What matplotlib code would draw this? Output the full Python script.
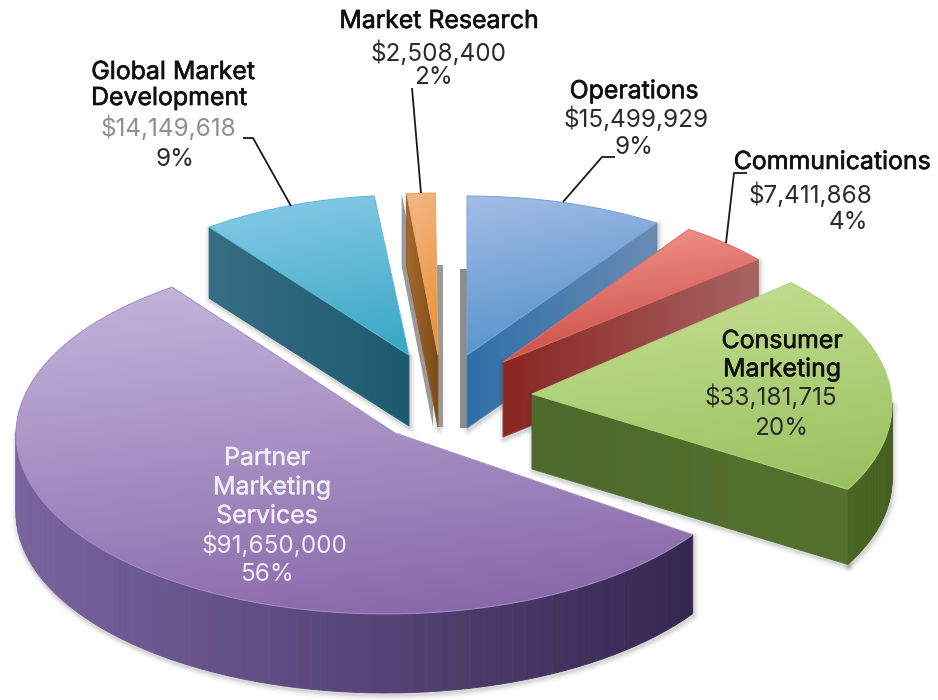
"""Exploded 3D budget pie, drawn by hand from patches so each slice can have its own ellipse."""
import numpy as np
import matplotlib
matplotlib.use('Agg')
import matplotlib.pyplot as plt
from matplotlib.colors import to_rgb
from matplotlib.patches import PathPatch, Polygon, Rectangle
from matplotlib.path import Path
import matplotlib.patheffects as pe

departments = ['Operations', 'Communications', 'Consumer Marketing',
               'Partner Marketing Services', 'Global Market Development', 'Market Research']
budgets = [15499929, 7411868, 33181715, 91650000, 14149618, 2508400]
percents = ['9%', '4%', '20%', '56%', '9%', '2%']

# slice layout, same order as above (pixels of the 938x700 picture)
tip_x = [467, 503, 532, 395, 409, 438]
tip_y = [355, 362, 394, 433, 355, 355]
ell_x = [467, 503, 532, 386, 409, 438]
ell_y = [355, 362, 405, 434, 355, 355]
rad_x = [340, 332, 360, 370, 332, 300]
rad_y = [159, 160, 176, 180, 160, 162]
depth = [73, 75, 75, 79, 71, 72]
start = [90, 56, 44, -34, 127, 96]   # where each slice starts, clockwise sweep comes from its budget

top_cols = [('#a3bde6', '#4a8cc6'), ('#f49a92', '#c4423a'), ('#c6e094', '#98c05e'),
            ('#c4b6dc', '#8463a6'), ('#8accea', '#36a6c2'), ('#f4b888', '#e88f32')]
cut_cols = [('#2f6fa8', '#6a8cb4'), ('#8a2622', '#a86464'), ('#4d6a2c', '#54722e'),
            ('#6a5590', '#3a2c58'), ('#376e84', '#1c5a70'), ('#a86a2c', '#7a4a1c')]
wall_cols = [('#6a8cb4', '#6a8cb4'), ('#a86464', '#a86464'), ('#4f6c2a', '#45601f'),
             ('#7a64a0', '#352850'), ('#376e84', '#376e84'), ('#aa6e30', '#aa6e30')]
draw_order = [0, 5, 4, 1, 2, 3]

FONT = 'Inter'
BOLD_SIZE = 17.9
VALUE_SIZE = 17.5


def grad_fill(ax, verts, c0, c1, direction, zorder):
    """Fill a polygon with a linear gradient: an image clipped to the polygon, stroked to hide the jaggies."""
    verts = np.asarray(verts, dtype=float)
    x0, y0 = verts.min(axis=0)
    x1, y1 = verts.max(axis=0)
    gx, gy = np.meshgrid(np.linspace(0, 1, 80), np.linspace(0, 1, 80))
    t = gx * direction[0] + gy * direction[1]
    t = (t - t.min()) / (t.max() - t.min())
    a, b = np.array(to_rgb(c0)), np.array(to_rgb(c1))
    img = a + (b - a) * t[..., None]
    im = ax.imshow(img, extent=(x0, x1, y1, y0), origin='upper', aspect='auto', zorder=zorder,
                   interpolation='bilinear')
    clip = PathPatch(Path(np.vstack([verts, verts[0]]), closed=True), transform=ax.transData)
    im.set_clip_path(clip)
    mid = (a + b) / 2
    ax.add_patch(Polygon(verts, closed=True, fc='none', ec=mid, lw=0.7, zorder=zorder))


def soft_shadow(ax, verts, zorder):
    for lw, alpha in ((8, 0.03), (5, 0.05), (2.5, 0.08)):
        ax.add_patch(Polygon(np.asarray(verts) + [1, 2], closed=True, fc='none', ec='k', lw=lw, alpha=alpha,
                             joinstyle='round', zorder=zorder))


def faces_viewer(tip, end, middle):
    """A cut face shows only if its outward normal points down the screen."""
    e = end - tip
    n = np.array([e[1], -e[0]])
    if np.dot(n, middle - tip) > 0:
        n = -n
    return n[1] > 1e-6


fig = plt.figure(figsize=(9.38, 7.0), dpi=100)
ax = fig.add_axes([0, 0, 1, 1])

total = sum(budgets)
z = 1
for i in draw_order:
    sweep = 360.0 * budgets[i] / total
    deg = np.linspace(start[i], start[i] - sweep, 90)
    ang = np.radians(deg)
    rim = np.column_stack([ell_x[i] + rad_x[i] * np.cos(ang), ell_y[i] - rad_y[i] * np.sin(ang)])
    tip = np.array([tip_x[i], tip_y[i]], dtype=float)
    d = np.array([0, depth[i]], dtype=float)
    top = np.vstack([tip, rim])
    middle = rim[len(rim) // 2]

    cuts = [[tip, end, end + d, tip + d] for end in (rim[0], rim[-1]) if faces_viewer(tip, end, middle)]
    front = np.sin(ang) < 0.02

    for poly in cuts:
        soft_shadow(ax, poly, z)
    if front.any():
        arc = rim[front]
        soft_shadow(ax, np.vstack([arc, arc[::-1] + d]), z)

    # thin slices in the middle throw a grey block on the white behind them
    if i in (0, 5):
        y_top = ell_y[i] - rad_y[i] + depth[i]
        h = tip_y[i] + depth[i] - y_top
        if i == 0:
            ax.add_patch(Rectangle((tip_x[i] - 7, y_top), 7, h, fc='#8c8c8c', ec='none', zorder=z))
        else:
            ax.add_patch(Rectangle((tip_x[i] - 1, y_top), 6, h, fc='#9a9a9a', ec='none', zorder=z))
            ax.add_patch(Polygon(np.asarray(cuts[0]) + [-5, 0], closed=True, fc='#9a9a9a', ec='none', zorder=z))
    z += 1

    for poly in cuts:
        grad_fill(ax, poly, *cut_cols[i], (1, 0), z)
    z += 1

    # outer wall as thin strips so the colour can follow the arc
    a, b = np.array(to_rgb(wall_cols[i][0])), np.array(to_rgb(wall_cols[i][1]))
    xs = (rim[:, 0] - rim[:, 0].min()) / max(np.ptp(rim[:, 0]), 1)
    for k in range(len(rim) - 1):
        if not front[k]:
            continue
        col = a + (b - a) * xs[k]
        ax.add_patch(Polygon([rim[k], rim[k + 1], rim[k + 1] + d, rim[k] + d], closed=True,
                             fc=col, ec=col, lw=0.6, zorder=z))
    z += 1

    # top face
    grad_fill(ax, top, *top_cols[i], (0.25, 1), z)
    z += 1

# leader lines
leaders = [([243, 253, 291], [138, 138, 206]), ([412, 421], [88, 193]),
           ([615, 602, 563], [157, 157, 202]), ([747, 734, 726], [173, 173, 243])]
for lx, ly in leaders:
    ax.plot(lx, ly, color='#1a1a1a', lw=1.3, zorder=z, solid_capstyle='butt')

heavy = [pe.withStroke(linewidth=0.45, foreground='#111111')]
heavy_w = [pe.withStroke(linewidth=0.3, foreground='#f2edf8')]


def label(x, y, s, size=VALUE_SIZE, color='#2b2b2b', effects=None):
    ax.text(x, y + 1.5, s, ha='center', va='center', fontsize=size, color=color, family=FONT,
            path_effects=effects, zorder=z + 1)


def money(i):
    return f"${budgets[i]:,}"


label(439, 20, 'Market Research', BOLD_SIZE, '#111111', heavy)
label(439, 52, money(5))
label(434, 76, percents[5])

label(173, 71, 'Global Market', BOLD_SIZE, '#111111', heavy)
label(169, 97, 'Development', BOLD_SIZE, '#111111', heavy)
label(168, 127, money(4), color='#8f8f8f')
label(175, 158, percents[4])

label(634, 90, departments[0], BOLD_SIZE, '#111111', heavy)
label(636, 118, money(0))
label(634, 146, percents[0])

label(832, 161, departments[1], BOLD_SIZE, '#111111', heavy)
label(810, 194, money(1))
label(848, 221, percents[1])

label(782, 340, 'Consumer', BOLD_SIZE, '#111111', heavy)
label(782, 368, 'Marketing', BOLD_SIZE, '#111111', heavy)
label(771, 396, money(2))
label(781, 427, percents[2])

label(267, 457, 'Partner', BOLD_SIZE, '#f2edf8', heavy_w)
label(272, 486, 'Marketing', BOLD_SIZE, '#f2edf8', heavy_w)
label(267, 515, 'Services', BOLD_SIZE, '#f2edf8', heavy_w)
label(274, 544, money(3), color='#f2edf8')
label(267, 573, percents[3], color='#f2edf8')

ax.set_xlim(0, 938)
ax.set_ylim(700, 0)
ax.axis('off')
fig.savefig('out.png', dpi=100, facecolor='white')
